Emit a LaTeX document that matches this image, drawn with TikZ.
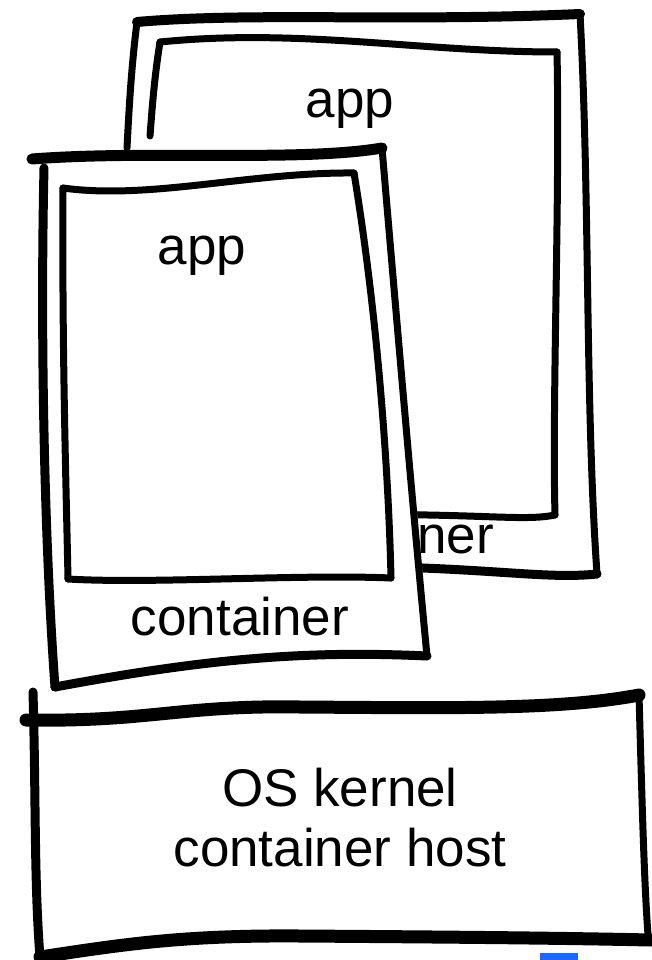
\documentclass[tikz,border=0pt]{standalone}
\usepackage{fontspec}
\setmainfont{Liberation Sans}
\definecolor{bluebar}{HTML}{1A66FF}
\begin{document}
\begin{tikzpicture}[x=1pt,y=-1pt,
  ink/.style={draw=black,line width=9pt,line cap=round,line join=round},
  thinink/.style={draw=black,line width=7pt,line cap=round,line join=round},
  lbl/.style={font=\fontsize{53}{60}\selectfont,inner sep=0pt,anchor=base}]
\useasboundingbox (0,0) rectangle (651,960);
\fill[white] (0,0) rectangle (651,960);

% ---------- back container ----------
\coordinate (bcTL) at (137,22);
\coordinate (bcTR) at (580,14);
\coordinate (bcBR) at (597,574);
\coordinate (bcBL) at (300,566);
\draw[ink,line width=10pt] (bcTL) .. controls (250,12) and (400,22) .. (bcTR);
\draw[thinink] (bcTR) .. controls (590,200) and (585,400) .. (bcBR);
\draw[ink] (bcBR) .. controls (540,580) and (480,565) .. (bcBL);
\draw[thinink] (bcTL) .. controls (131,70) and (129,110) .. (127,148);
% back app
\coordinate (baTL) at (160,42);
\coordinate (baTR) at (557,52);
\coordinate (baBR) at (555,515);
\coordinate (baBL) at (300,515);
\draw[thinink] (baTL) .. controls (300,28) and (420,52) .. (baTR);
\draw[thinink] (baTR) .. controls (560,200) and (552,400) .. (baBR);
\draw[thinink] (baBR) .. controls (520,522) and (480,512) .. (baBL);
\draw[thinink] (baTL) .. controls (154,80) and (152,110) .. (150,136);
\node[lbl] (bapp) at (350,118) {app};
\node[lbl] (bcont) at (385,553) {container};

% ---------- front container ----------
\coordinate (fcTL) at (32,159);
\coordinate (fcTR) at (382,148);
\coordinate (fcBR) at (427,656);
\coordinate (fcBL) at (55,687);
\fill[white] (30,158) -- (384,146) -- (430,656) -- (55,690) -- (42,168) -- cycle;
\draw[ink,line width=11pt] (fcTL) .. controls (150,150) and (300,162) .. (fcTR);
\draw[thinink] (fcTR) .. controls (395,300) and (412,500) .. (fcBR);
\draw[ink] (fcBR) .. controls (300,650) and (200,660) .. (fcBL);
\draw[ink] (44,168) .. controls (40,350) and (45,550) .. (fcBL);
% front app
\coordinate (faTL) at (63,188);
\coordinate (faTR) at (354,173);
\coordinate (faBR) at (391,578);
\coordinate (faBL) at (68,579);
\draw[thinink] (faTL) .. controls (150,200) and (250,172) .. (faTR);
\draw[thinink] (faTR) .. controls (375,300) and (388,450) .. (faBR);
\draw[thinink] (faBR) .. controls (300,574) and (150,584) .. (faBL);
\draw[thinink] (faTL) .. controls (62,350) and (66,480) .. (faBL);
\node[lbl] (fapp) at (202,264) {app};
\node[lbl] (fcont) at (240,635) {container};

% ---------- host ----------
\coordinate (hTL) at (26,720);
\coordinate (hTR) at (639,695);
\coordinate (hBR) at (651,940);
\coordinate (hBL) at (40,957);
\draw[ink,line width=13pt] (hTL) .. controls (150,722) and (180,705) .. (300,707) .. controls (450,708) and (560,710) .. (hTR);
\draw[thinink] (hTR) .. controls (642,800) and (644,880) .. (648,935);
\draw[ink,line width=13pt] (hBL) .. controls (120,945) and (180,935) .. (300,936) .. controls (450,937) and (560,938) .. (hBR);
\draw[ink] (33,692) .. controls (36,800) and (34,880) .. (hBL);
\node[lbl,align=center,anchor=center] (host) at (340,818) {OS kernel\\container host};

\fill[bluebar] (540,953) rectangle (578,960);
\end{tikzpicture}
\end{document}
